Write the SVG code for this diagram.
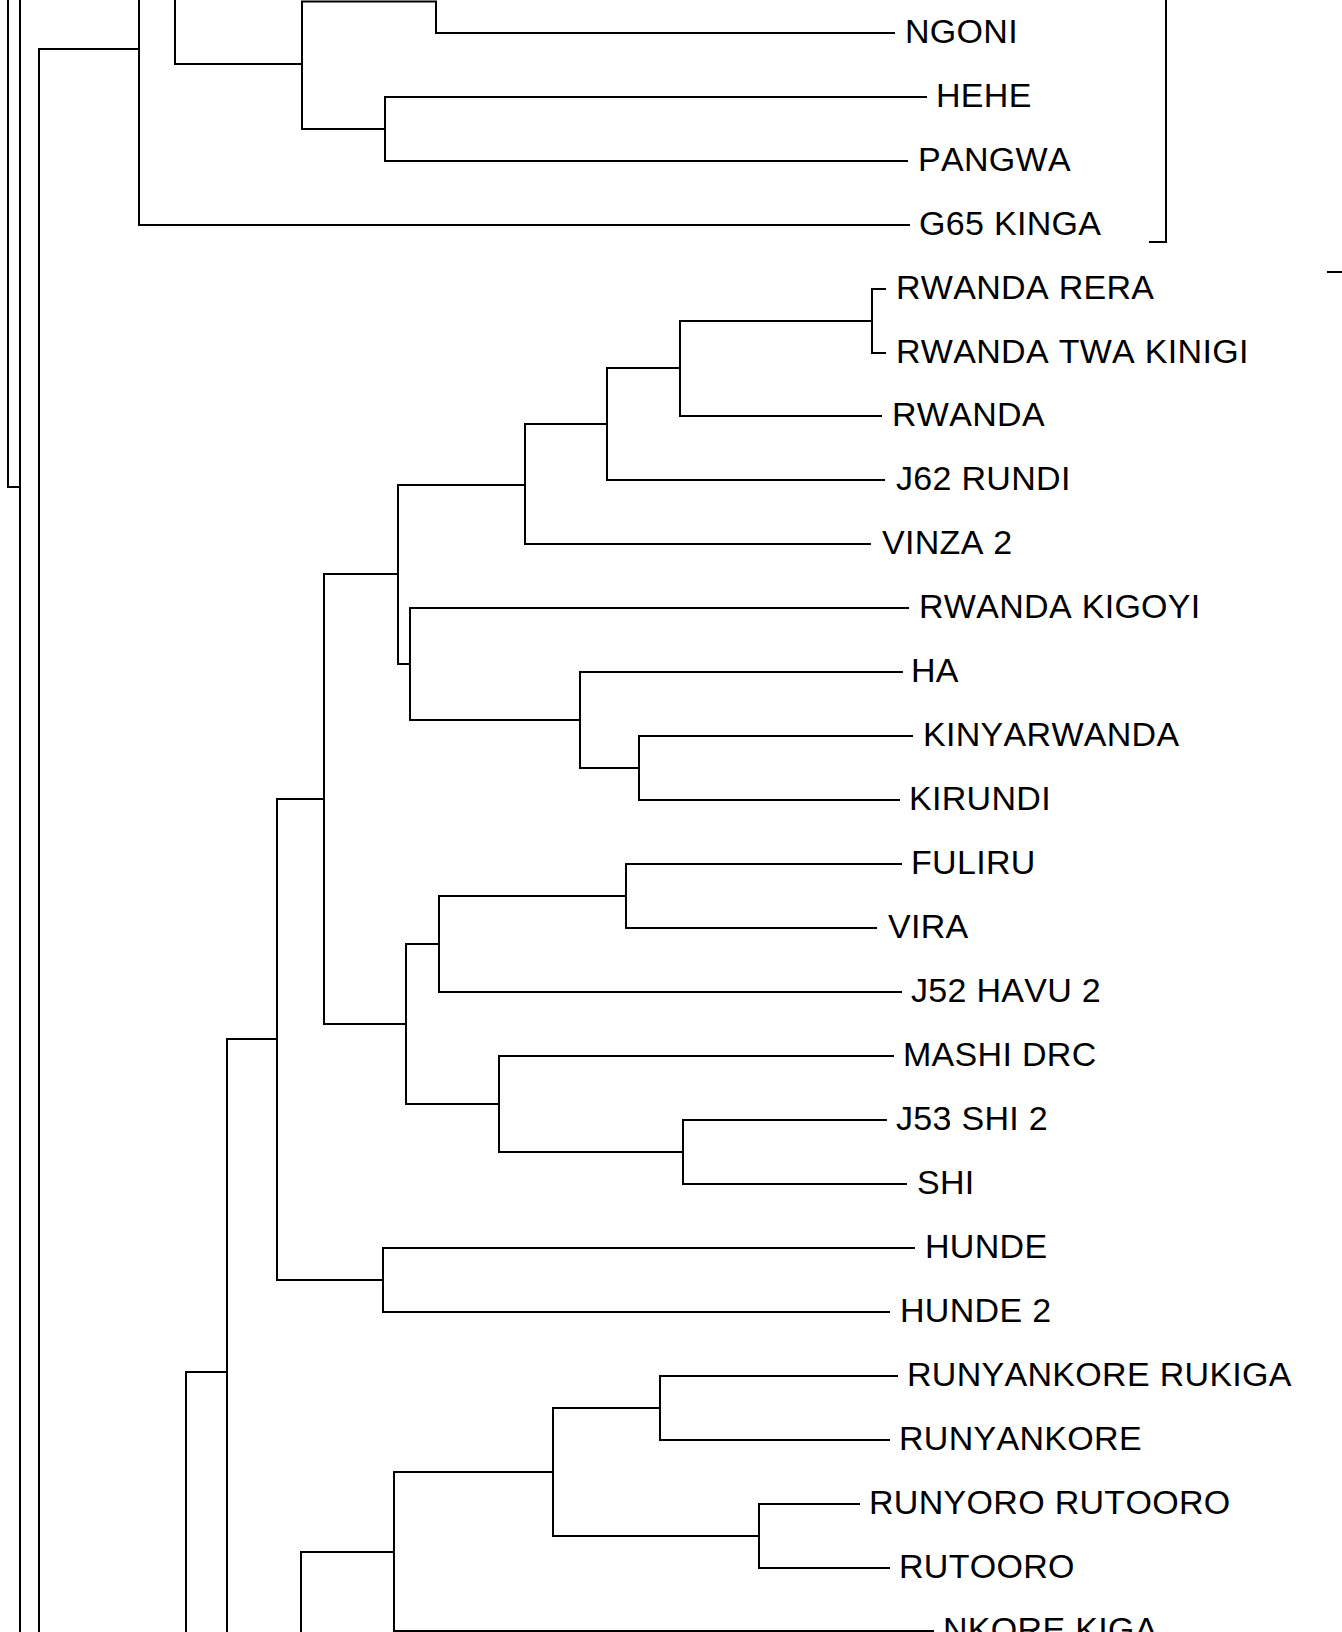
<svg xmlns="http://www.w3.org/2000/svg" width="1342" height="1632" viewBox="0 0 1342 1632">
<style>
.e{fill:none;stroke:#000;stroke-width:2;stroke-linecap:square}
.t{font-family:"Liberation Sans",Arial,sans-serif;font-size:34px;fill:#000;font-kerning:none;font-feature-settings:"kern" 0;letter-spacing:0.3px}
</style>
<rect width="1342" height="1632" fill="#fff"/>
<g id="connectors" class="e">
<path d="M8,0V487H20M20,0V1632M39,1632V49H139M139,0V225H909"/>
<path d="M175,0V64H302M302,129V1.5H436V33H894M302,129H385M385,97V161M385,97H926M385,161H907"/>
<path d="M1166,0V242H1150M1328,272H1342"/>
<path d="M680,321H872M872,289V353M872,289H885M872,353H885M680,321V416H881"/>
<path d="M607,368H680M607,368V480H884M525,424H607M525,424V544H870"/>
<path d="M398,485H525M398,485V664H410M410,608V720M410,608H908M410,720H580"/>
<path d="M580,672V768M580,672H902M580,768H639M639,736V800M639,736H912M639,800H899"/>
<path d="M324,574H398M324,574V1024H406M277,799H324"/>
<path d="M406,944V1104M406,944H439M439,896V992H901M439,896H626M626,864V928M626,864H901M626,928H876"/>
<path d="M406,1104H499M499,1056V1152M499,1056H893M499,1152H683M683,1120V1184M683,1120H886M683,1184H906"/>
<path d="M277,799V1280H383M227,1039H277M383,1248V1312M383,1248H914M383,1312H889"/>
<path d="M227,1039V1632M186,1372H227M186,1372V1632"/>
<path d="M660,1376H897M660,1376V1440H889M553,1408H660M553,1408V1536H759M759,1504V1568M759,1504H859M759,1568H889"/>
<path d="M394,1472H553M394,1472V1631H933M301,1552H394M301,1552V1632"/>
</g>
<g id="n-ngoni"><text class="t" x="905" y="43">NGONI</text></g>
<g id="n-hehe"><text class="t" x="936" y="107">HEHE</text></g>
<g id="n-pangwa"><text class="t" x="918" y="171">PANGWA</text></g>
<g id="n-g65-kinga"><text class="t" x="919" y="235">G65 KINGA</text></g>
<g id="n-rwanda-rera"><text class="t" x="896" y="299">RWANDA RERA</text></g>
<g id="n-rwanda-twa-kinigi"><text class="t" x="896" y="363">RWANDA TWA KINIGI</text></g>
<g id="n-rwanda"><text class="t" x="892" y="426">RWANDA</text></g>
<g id="n-j62-rundi"><text class="t" x="896" y="490">J62 RUNDI</text></g>
<g id="n-vinza-2"><text class="t" x="882" y="554">VINZA 2</text></g>
<g id="n-rwanda-kigoyi"><text class="t" x="919" y="618">RWANDA KIGOYI</text></g>
<g id="n-ha"><text class="t" x="911" y="682">HA</text></g>
<g id="n-kinyarwanda"><text class="t" x="923" y="746">KINYARWANDA</text></g>
<g id="n-kirundi"><text class="t" x="909" y="810">KIRUNDI</text></g>
<g id="n-fuliru"><text class="t" x="911" y="874">FULIRU</text></g>
<g id="n-vira"><text class="t" x="888" y="938">VIRA</text></g>
<g id="n-j52-havu-2"><text class="t" x="911" y="1002">J52 HAVU 2</text></g>
<g id="n-mashi-drc"><text class="t" x="903" y="1066">MASHI DRC</text></g>
<g id="n-j53-shi-2"><text class="t" x="896" y="1130">J53 SHI 2</text></g>
<g id="n-shi"><text class="t" x="917" y="1194">SHI</text></g>
<g id="n-hunde"><text class="t" x="925" y="1258">HUNDE</text></g>
<g id="n-hunde-2"><text class="t" x="900" y="1322">HUNDE 2</text></g>
<g id="n-runyankore-rukiga"><text class="t" x="907" y="1386">RUNYANKORE RUKIGA</text></g>
<g id="n-runyankore"><text class="t" x="899" y="1450">RUNYANKORE</text></g>
<g id="n-runyoro-rutooro"><text class="t" x="869" y="1514">RUNYORO RUTOORO</text></g>
<g id="n-rutooro"><text class="t" x="899" y="1578">RUTOORO</text></g>
<g id="n-nkore-kiga"><text class="t" x="943" y="1641">NKORE KIGA</text></g>
</svg>
